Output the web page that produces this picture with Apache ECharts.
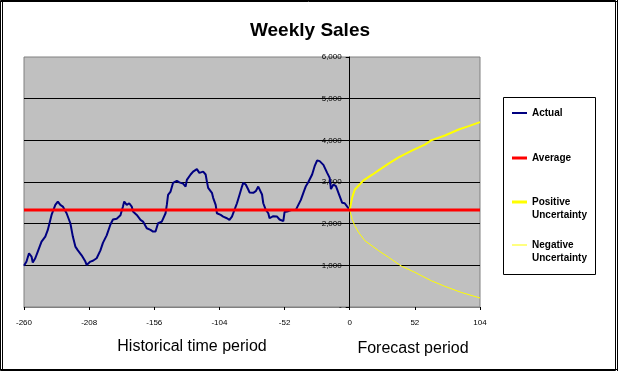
<!DOCTYPE html>
<html>
<head>
<meta charset="utf-8">
<script src="https://cdn.jsdelivr.net/npm/echarts@6/dist/echarts.min.js"></script>
<style>
html,body{margin:0;padding:0;background:#fff;}
#chart{width:620px;height:374px;}
</style>
</head>
<body>
<div id="chart"></div>
<script>
// ---- data ----
const xTicks = [-260, -208, -156, -104, -52, 0, 52, 104];
const yTicks = [0, 1000, 2000, 3000, 4000, 5000, 6000];

const actualWeeks = [-260,-258,-256,-254,-253,-251,-249,-246,-243,-241,-238,-235,-233,-231,-229,-226,-223,-221,-219,-217,-214,-211,-210,-207,-205,-202,-199,-197,-194,-191,-189,-186,-183,-181,-180,-178,-176,-174,-173,-170,-167,-165,-162,-159,-157,-155,-153,-150,-147,-146,-145,-143,-141,-138,-136,-133,-131,-130,-127,-125,-122,-120,-117,-115,-114,-113,-110,-109,-107,-106,-103,-101,-98,-96,-94,-92,-90,-88,-86,-85,-83,-81,-80,-77,-75,-73,-72,-70,-69,-67,-65,-64,-61,-58,-56,-53,-52,-49,-46,-43,-41,-39,-37,-35,-33,-30,-28,-26,-24,-21,-18,-16,-15,-13,-11,-9,-6,-4,-2,0];
const actualValues = [990,1090,1290,1210,1070,1170,1330,1570,1690,1850,2210,2450,2530,2450,2410,2250,2010,1690,1450,1360,1240,1090,1010,1090,1110,1170,1360,1540,1720,1980,2100,2120,2200,2410,2530,2450,2490,2410,2290,2210,2090,2050,1890,1850,1810,1810,2010,2050,2250,2450,2690,2770,2980,3030,2990,2960,2890,3050,3180,3250,3310,3220,3250,3180,3010,2860,2740,2620,2450,2250,2210,2170,2130,2090,2170,2330,2490,2690,2890,2980,2940,2820,2750,2740,2780,2890,2860,2700,2490,2330,2250,2130,2180,2170,2100,2060,2280,2300,2330,2330,2450,2570,2740,2900,3000,3180,3380,3520,3500,3410,3220,3100,2830,2940,2900,2740,2500,2490,2410,2330];

const averageWeeks = [-260, 104];
const averageValues = [2330, 2330];

const posWeeks = [0,2,4,7,11,18,23,31,39,50,60,65,76,87,95,104];
const posValues = [2330,2630,2815,2911,3038,3175,3279,3440,3591,3760,3897,4000,4117,4261,4341,4437];

const negWeeks = [0,2,4,7,12,23,31,41,52,65,76,89,104];
const negValues = [2330,2100,1954,1794,1594,1353,1193,986,832,632,495,351,216];

const seriesNames = ['Actual', 'Average', 'Positive Uncertainty', 'Negative Uncertainty'];
// a leading blank line keeps the legend line beside the first text line
const legendLabels = ['Actual', 'Average', '\nPositive\nUncertainty', '\nNegative\nUncertainty'];

const zip = (a, b) => a.map((v, i) => [v, b[i]]);

const FONT = '"Liberation Sans", Arial, sans-serif';
const chart = echarts.init(document.getElementById('chart'), null, {renderer: 'canvas'});

// layout
const G = {left: 24, right: 140, top: 57, bottom: 67};
const gridWidth = 620 - G.left - G.right;
const xMin = xTicks[0], xMax = xTicks[xTicks.length - 1];
const yAxisOffset = -gridWidth * (0 - xMin) / (xMax - xMin);

const legendCenters = [113, 158, 202, 245];
const legendHalfText = [6.5, 6.5, 19.5, 19.5];
const legendThick = [2, 3, 3, 1];
const legendColors = ['#000080', '#ff0000', '#ffff00', '#ffff00'];
const legends = seriesNames.map((n, i) => ({
  data: [{name: n, icon: 'rect'}],
  orient: 'vertical',
  left: 512,
  top: legendCenters[i] - legendHalfText[i],
  padding: 0,
  itemWidth: 15,
  itemHeight: legendThick[i],
  itemGap: 0,
  z: 10,
  selectedMode: false,
  formatter: () => legendLabels[i],
  textStyle: {fontFamily: FONT, fontSize: 10, fontWeight: 'bold', color: '#000', lineHeight: 13}
}));

const option = {
  animation: false,
  backgroundColor: '#fff',
  title: [
    {text: 'Weekly Sales', left: 'center', top: 21, padding: 0,
     textStyle: {fontFamily: FONT, fontSize: 19, fontWeight: 'bold', color: '#000'}},
    {text: 'Historical time period', left: 192, top: 339, padding: 0, textAlign: 'center',
     textStyle: {fontFamily: FONT, fontSize: 16, fontWeight: 'normal', color: '#000'}},
    {text: 'Forecast period', left: 413, top: 341, padding: 0, textAlign: 'center',
     textStyle: {fontFamily: FONT, fontSize: 16, fontWeight: 'normal', color: '#000'}}
  ],
  legend: legends,
  graphic: [
    {type: 'rect', shape: {x: 503.5, y: 97.5, width: 92, height: 177}, style: {fill: '#fff', stroke: '#000', lineWidth: 1}, z: 1, silent: true},
    {type: 'rect', shape: {x: 0.5, y: 0.5, width: 615, height: 370}, style: {fill: null, stroke: '#000', lineWidth: 1}, z: 1, silent: true},
    {type: 'line', shape: {x1: 0, y1: 1.5, x2: 617, y2: 1.5}, style: {stroke: '#000', lineWidth: 1}, z: 1, silent: true},
    {type: 'line', shape: {x1: 2.5, y1: 0, x2: 2.5, y2: 371}, style: {stroke: '#000', lineWidth: 1}, z: 1, silent: true},
    {type: 'line', shape: {x1: 617.5, y1: 0, x2: 617.5, y2: 371}, style: {stroke: '#000', lineWidth: 1}, z: 1, silent: true},
    {type: 'line', shape: {x1: 0, y1: 369.5, x2: 618, y2: 369.5}, style: {stroke: '#000', lineWidth: 1}, z: 1, silent: true}
  ],
  grid: {left: G.left, right: G.right, top: G.top, bottom: G.bottom, show: true,
         outerBoundsMode: 'none', containLabel: false,
         backgroundColor: '#c0c0c0', borderColor: '#808080', borderWidth: 1},
  xAxis: {
    type: 'value', min: xMin, max: xMax, interval: 52,
    axisLine: {show: true, onZero: false, lineStyle: {color: '#808080', width: 1}},
    axisTick: {show: true, length: 3, lineStyle: {color: '#000'}},
    axisLabel: {fontFamily: FONT, fontSize: 8, color: '#000', margin: 12,
                formatter: v => xTicks.includes(v) ? String(v) : ''},
    splitLine: {show: false}
  },
  yAxis: {
    type: 'value', min: yTicks[0], max: yTicks[yTicks.length - 1], interval: 1000,
    offset: yAxisOffset,
    axisLine: {show: true, onZero: false, lineStyle: {color: '#000', width: 1}},
    axisTick: {show: true, length: 4, lineStyle: {color: '#000'}},
    axisLabel: {fontFamily: FONT, fontSize: 8, color: '#000', margin: 8,
                formatter: v => v === 0 ? '-' : v.toLocaleString('en-US')},
    splitLine: {show: true, showMinLine: false, showMaxLine: false, lineStyle: {color: '#000', width: 1}}
  },
  series: [
    {name: seriesNames[0], type: 'line', data: zip(actualWeeks, actualValues), symbol: 'none', showSymbol: false,
     lineStyle: {color: legendColors[0], width: 2}, itemStyle: {color: legendColors[0]}, z: 3},
    {name: seriesNames[1], type: 'line', data: zip(averageWeeks, averageValues), symbol: 'none', showSymbol: false,
     lineStyle: {color: legendColors[1], width: 3}, itemStyle: {color: legendColors[1]}, z: 6},
    {name: seriesNames[2], type: 'line', data: zip(posWeeks, posValues), symbol: 'none', showSymbol: false,
     lineStyle: {color: legendColors[2], width: 2}, itemStyle: {color: legendColors[2]}, z: 4},
    {name: seriesNames[3], type: 'line', data: zip(negWeeks, negValues), symbol: 'none', showSymbol: false,
     lineStyle: {color: legendColors[3], width: 1}, itemStyle: {color: legendColors[3]}, z: 4}
  ]
};
chart.setOption(option);
</script>
</body>
</html>
